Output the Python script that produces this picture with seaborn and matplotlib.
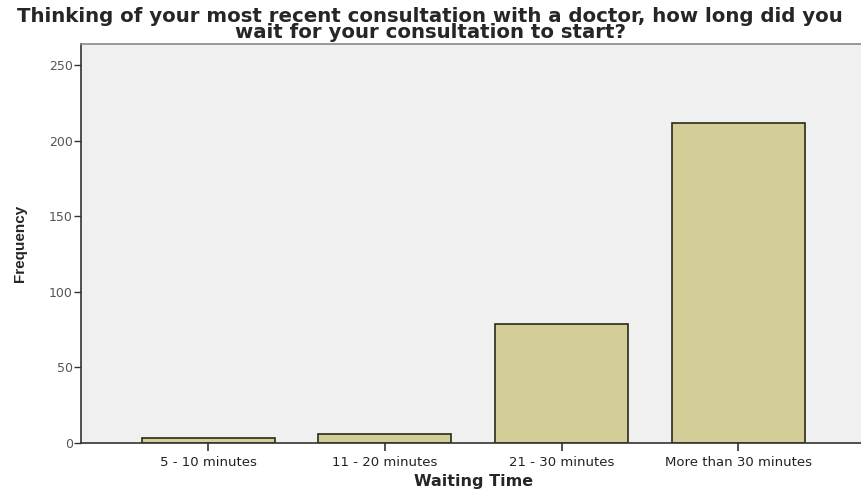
import matplotlib
matplotlib.use('Agg')
import matplotlib.pyplot as plt
import pandas as pd
import seaborn as sns

# data
waiting_times = ['5 - 10 minutes', '11 - 20 minutes', '21 - 30 minutes', 'More than 30 minutes']
frequencies = [3, 6, 79, 212]
y_ticks = [0, 50, 100, 150, 200, 250]

df = pd.DataFrame({'Waiting Time': waiting_times, 'Frequency': frequencies})

sns.set_style('white')
plt.rcParams['font.family'] = ['DejaVu Sans']

fig = plt.figure(figsize=(8.62, 4.93), dpi=100)
ax = fig.add_axes([0.094, 0.1014, 0.91, 0.8094])
ax.set_facecolor('#f0f0f0')

sns.barplot(data=df, x='Waiting Time', y='Frequency', color='#d3ce97',
            edgecolor='#2a2a1a', linewidth=1.2, width=0.753, saturation=1, ax=ax)

ax.set_xlim(-0.72, 3.72)
ax.set_ylim(0, 264)
ax.set_yticks(y_ticks)
ax.tick_params(axis='y', direction='out', length=5, width=1, color='#333333',
               labelsize=9, labelcolor='#555555', pad=1, left=True)
ax.tick_params(axis='x', direction='out', length=6, width=1.2, color='#333333',
               labelsize=9.5, labelcolor='#222222', pad=3, bottom=True)

for side in ['left', 'bottom', 'top']:
    ax.spines[side].set_color('#333333')
    ax.spines[side].set_linewidth(1.2)
ax.spines['top'].set_color('#888888')
ax.spines['right'].set_visible(False)

ax.set_xlabel('Waiting Time', fontsize=11.5, fontweight='bold', labelpad=4)
ax.set_ylabel('Frequency', family='Liberation Sans', fontsize=11,
              fontweight='bold', labelpad=16)

fig.text(0.499, 0.985, 'Thinking of your most recent consultation with a doctor, how long did you\nwait for your consultation to start?',
         ha='center', va='top', fontsize=14.2, fontweight='bold', linespacing=0.8)

fig.savefig('out.png', dpi=100)
